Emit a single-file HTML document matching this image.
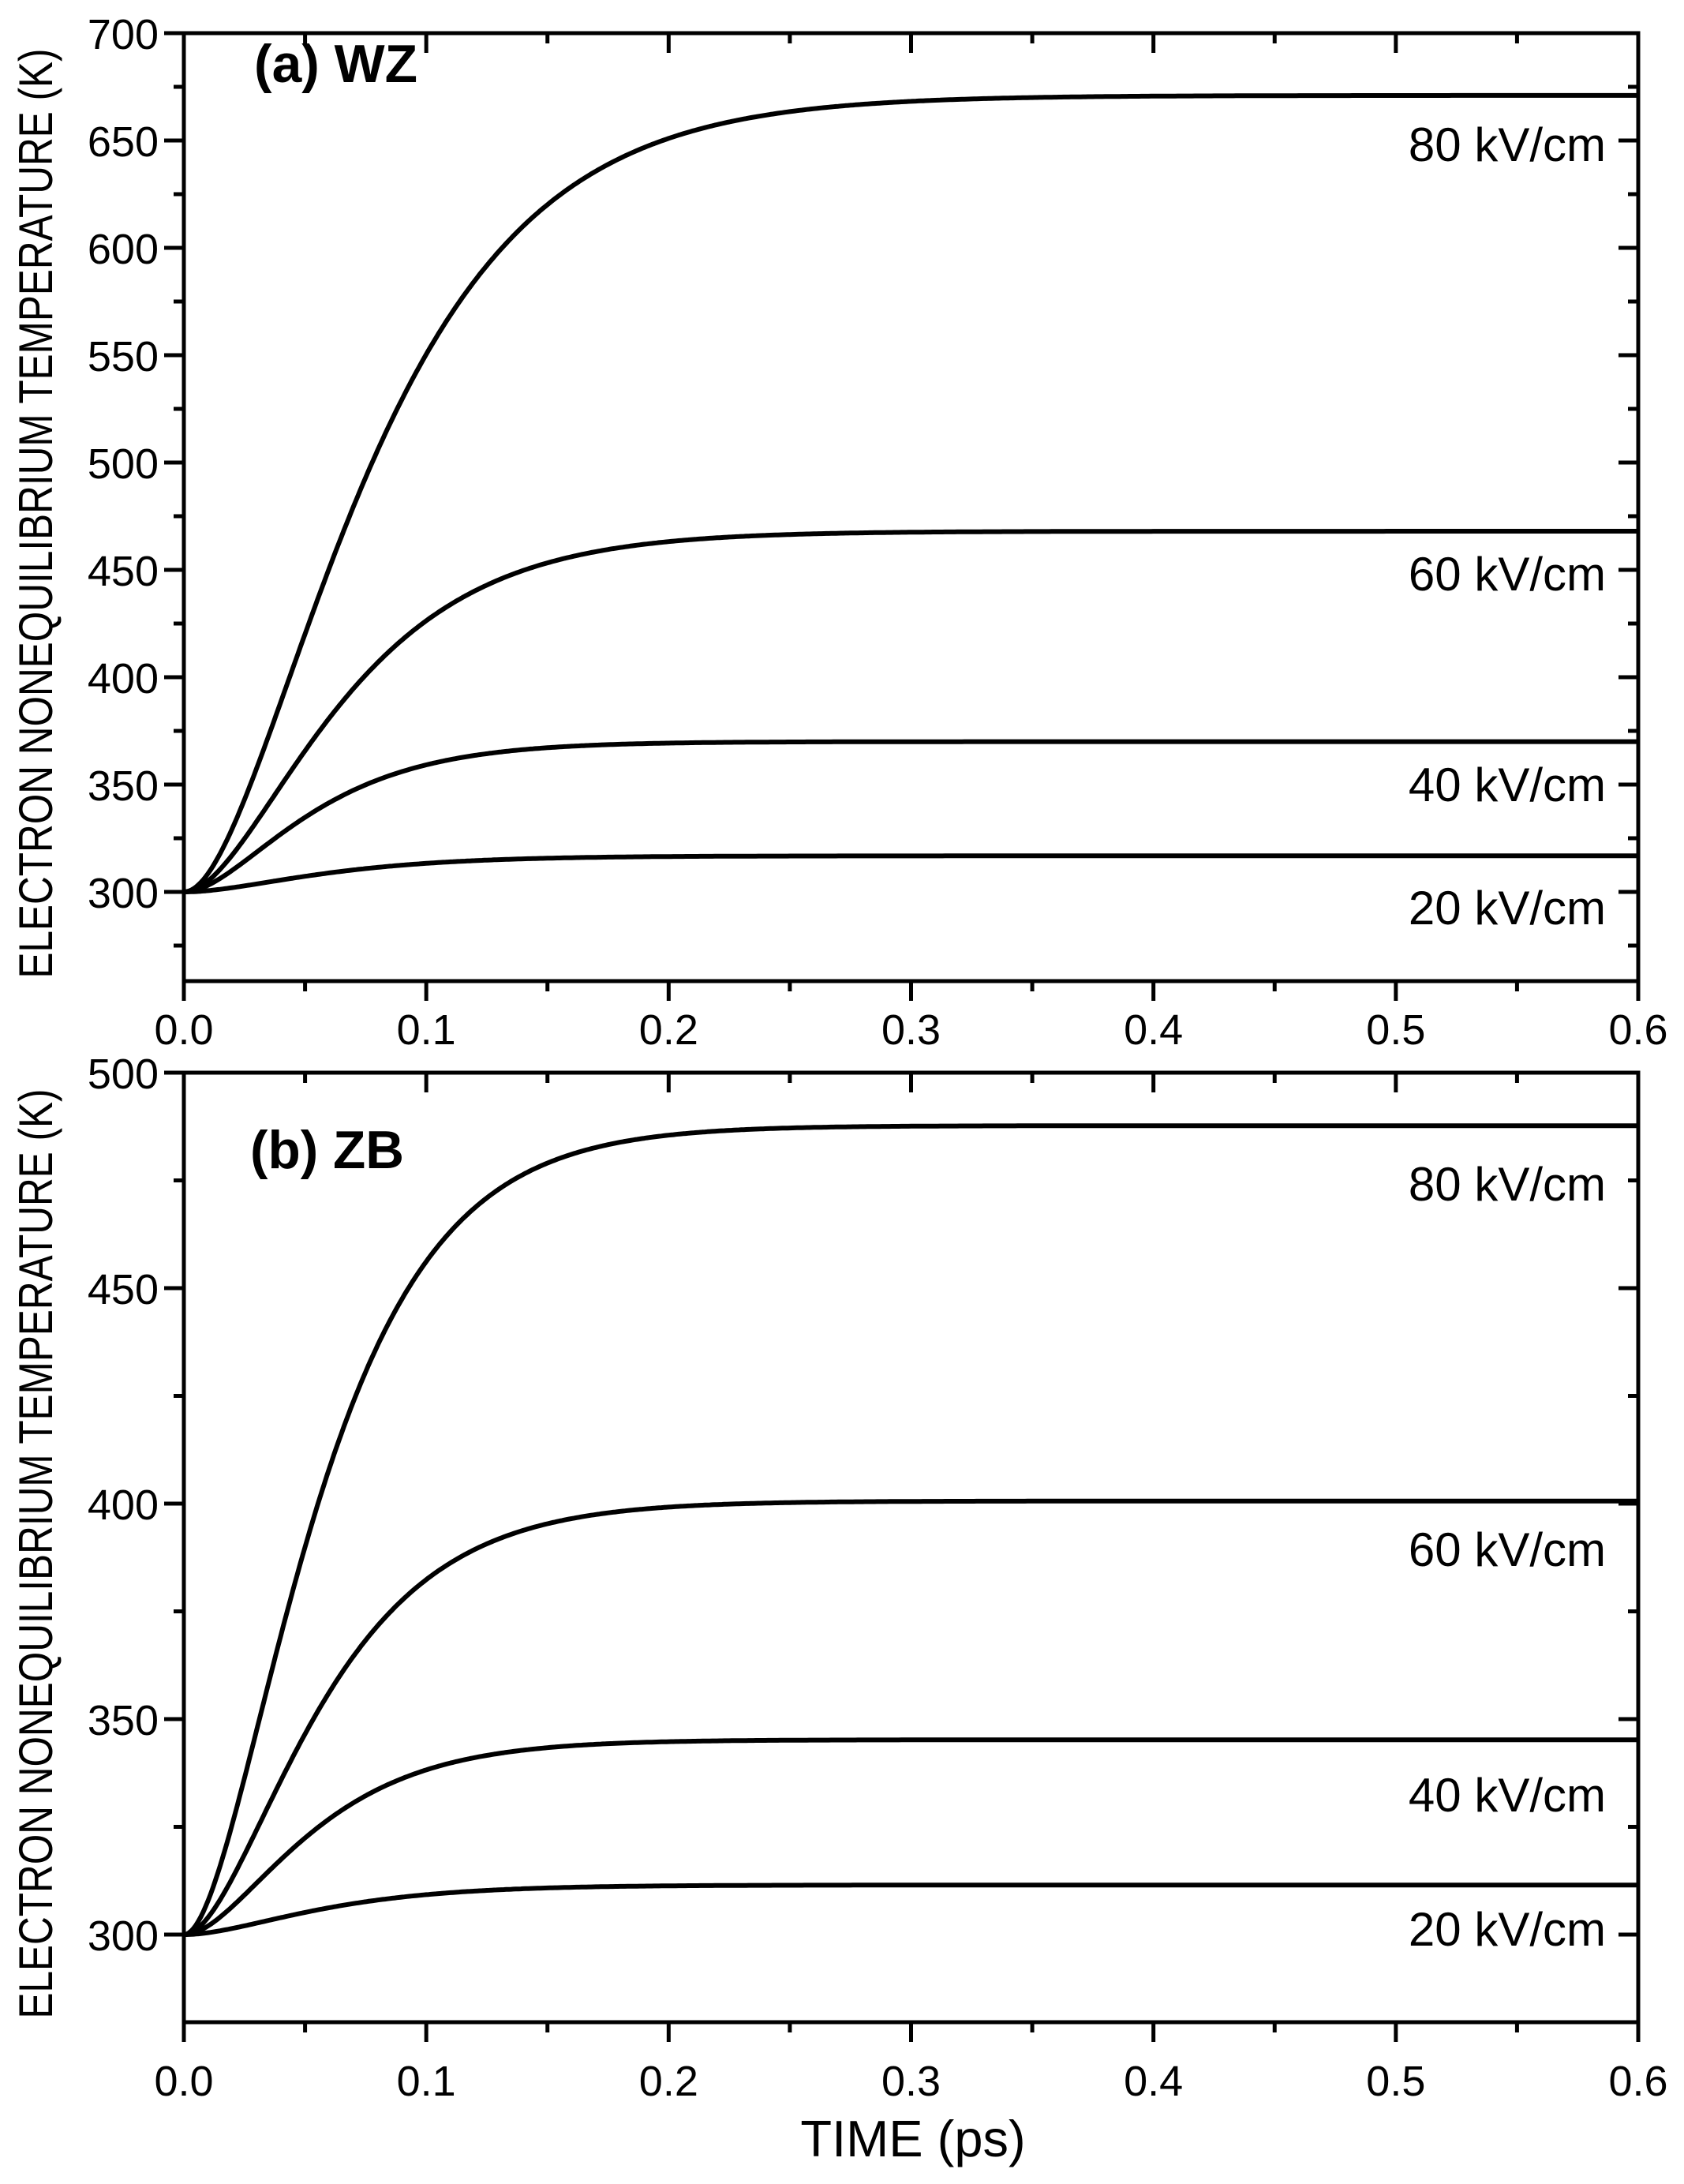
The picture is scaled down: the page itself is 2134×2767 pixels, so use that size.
<!DOCTYPE html>
<html><head><meta charset="utf-8"><style>
html,body{margin:0;padding:0;background:#fff;}
svg{display:block;font-family:"Liberation Sans",Arial,sans-serif;}
</style></head><body>
<svg id="s" width="2134" height="2767" viewBox="0 0 2134 2767" xmlns="http://www.w3.org/2000/svg">
<g id="g" fill="none" stroke="#000" stroke-width="5"></g>
<g id="t" fill="#000"></g>
</svg>
<script>
var NS="http://www.w3.org/2000/svg";
var g=document.getElementById('g'),tg=document.getElementById('t');
function el(p,tag,a,txt){var e=document.createElementNS(NS,tag);for(var k in a)e.setAttribute(k,a[k]);if(txt!=null)e.textContent=txt;p.appendChild(e);return e;}
var X0=233,X1=2076;function xp(t){return X0+(X1-X0)*t/0.6;}
var panels=[
 {top:42,bot:1243,y0:700,k:2.72,ymin:258.5,labs:[300,350,400,450,500,550,600,650,700],minor:[275,325,375,425,475,525,575,625,675],xlabY:1323,
  curves:[[371,0.043],[168,0.037],[70,0.030],[16.8,0.034]],
  cl:[[204,'80 kV/cm'],[748,'60 kV/cm'],[1015,'40 kV/cm'],[1171,'20 kV/cm']],title:'(a) WZ',tx:322,ty:104},
 {top:1359,bot:2562,y0:500,k:5.46,ymin:280,labs:[300,350,400,450,500],minor:[325,375,425,475],xlabY:2655,
  curves:[[187.7,0.031],[100.6,0.032],[45.2,0.030],[11.5,0.033]],
  cl:[[1521,'80 kV/cm'],[1984,'60 kV/cm'],[2295,'40 kV/cm'],[2465,'20 kV/cm']],title:'(b) ZB',tx:317,ty:1480}
];
panels.forEach(function(P){
 function yp(T){return P.top+(P.y0-T)*P.k;}
 el(g,'rect',{x:X0,y:P.top,width:X1-X0,height:P.bot-P.top});
 for(var i=0;i<=12;i++){var t=i*0.05,x=xp(t),L=(i%2==0)?25:13;
  el(g,'line',{x1:x,y1:P.bot,x2:x,y2:P.bot+L});
  el(g,'line',{x1:x,y1:P.top,x2:x,y2:P.top+L});
  if(i%2==0) el(tg,'text',{x:x,y:P.xlabY,'font-size':54,'text-anchor':'middle'},(t).toFixed(1));}
 P.labs.forEach(function(v){var y=yp(v);el(g,'line',{x1:X0-25,y1:y,x2:X0,y2:y});el(g,'line',{x1:X1-25,y1:y,x2:X1,y2:y});
  el(tg,'text',{x:201,y:y+20,'font-size':54,'text-anchor':'end'},String(v));});
 P.minor.forEach(function(v){var y=yp(v);el(g,'line',{x1:X0-13,y1:y,x2:X0,y2:y});el(g,'line',{x1:X1-13,y1:y,x2:X1,y2:y});});
 P.curves.forEach(function(c){var d='';for(var i=0;i<=600;i++){var t=i*0.001,u=t/c[1],f=1-(1+u)*Math.exp(-u);
  d+=(i?'L':'M')+xp(t).toFixed(1)+','+yp(300+c[0]*f).toFixed(1);}el(g,'path',{d:d,'stroke-width':6,'stroke-linejoin':'round'});});
 P.cl.forEach(function(c){el(tg,'text',{x:2035,y:c[0],'font-size':60,'text-anchor':'end'},c[1]);});
 el(tg,'text',{x:P.tx,y:P.ty,'font-size':68,'font-weight':'bold',textLength:(P.title=='(a) WZ'?207:195),lengthAdjust:'spacingAndGlyphs'},P.title);
 var cy=(P.top+P.bot)/2+8;
 el(tg,'text',{x:0,y:0,'font-size':60,'text-anchor':'middle',transform:'translate(66,'+cy+') rotate(-90)',textLength:1178,lengthAdjust:'spacingAndGlyphs'},'ELECTRON NONEQUILIBRIUM TEMPERATURE (K)');
});
el(tg,'text',{x:1157,y:2732,'font-size':65,'text-anchor':'middle'},'TIME (ps)');
</script>
</body></html>
